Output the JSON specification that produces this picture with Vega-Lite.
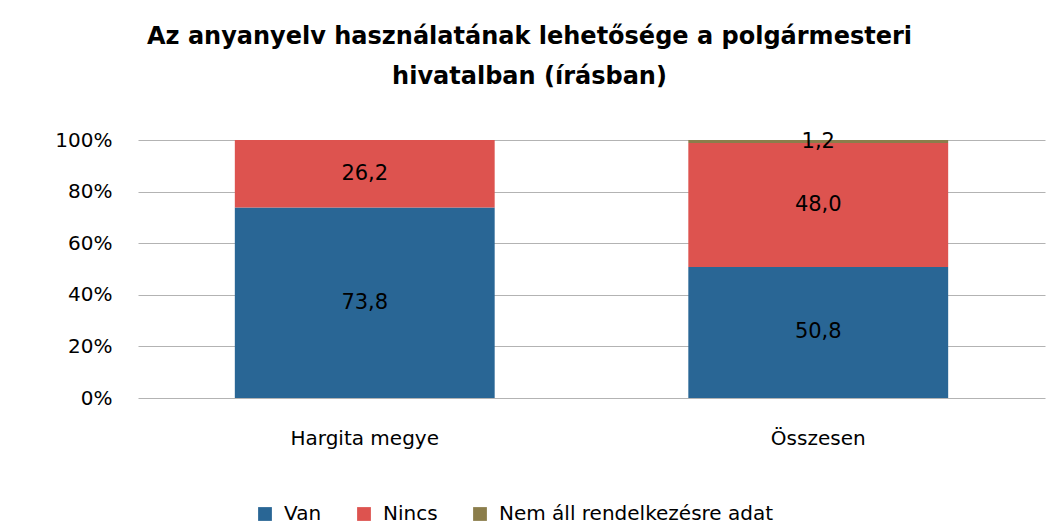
{
  "$schema": "https://vega.github.io/schema/vega-lite/v6.json",
  "width": 907,
  "height": 258,
  "autosize": {"type": "none"},
  "padding": {"left": 138, "top": 140, "right": 5, "bottom": 129},
  "background": "white",
  "config": {"view": {"stroke": null}},
  "title": {
    "text": ["Az anyanyelv használatának lehetősége a polgármesteri", "hivatalban (írásban)"],
    "anchor": "middle",
    "dx": -62,
    "offset": 40,
    "font": "DejaVu Sans",
    "fontSize": 24,
    "fontWeight": "bold",
    "lineHeight": 40,
    "color": "#000000"
  },
  "data": {
    "values": [
      {"cat": "Hargita megye", "group": "Van", "value": 73.8, "label": "73,8", "k": 1},
      {"cat": "Hargita megye", "group": "Nincs", "value": 26.2, "label": "26,2", "k": 2},
      {"cat": "Hargita megye", "group": "Nem áll rendelkezésre adat", "value": 0, "label": "", "k": 3},
      {"cat": "Összesen", "group": "Van", "value": 50.8, "label": "50,8", "k": 1},
      {"cat": "Összesen", "group": "Nincs", "value": 48.0, "label": "48,0", "k": 2},
      {"cat": "Összesen", "group": "Nem áll rendelkezésre adat", "value": 1.2, "label": "1,2", "k": 3}
    ]
  },
  "transform": [
    {"stack": "value", "groupby": ["cat"], "sort": [{"field": "k", "order": "ascending"}], "offset": "normalize", "as": ["y0", "y1"]},
    {"calculate": "(datum.y0 + datum.y1) / 2", "as": "ymid"}
  ],
  "encoding": {
    "x": {
      "field": "cat",
      "type": "nominal",
      "sort": null,
      "scale": {"paddingInner": 0, "paddingOuter": 0},
      "axis": {
        "title": null,
        "labelAngle": 0,
        "labelFont": "DejaVu Sans",
        "labelFontSize": 20,
        "labelColor": "#000000",
        "labelPadding": 30,
        "ticks": false,
        "domain": false
      }
    }
  },
  "layer": [
    {
      "mark": {"type": "bar", "width": {"band": 0.573}},
      "encoding": {
        "y": {
          "field": "y0",
          "type": "quantitative",
          "scale": {"domain": [0, 1], "nice": false},
          "axis": {
            "title": null,
            "format": ".0%",
            "values": [0, 0.2, 0.4, 0.6, 0.8, 1],
            "labelOverlap": false,
            "labelFont": "DejaVu Sans",
            "labelFontSize": 20,
            "labelColor": "#000000",
            "labelPadding": 26,
            "ticks": false,
            "domain": false,
            "grid": true,
            "gridColor": "#B3B3B3",
            "gridWidth": 1
          }
        },
        "y2": {"field": "y1"},
        "color": {
          "field": "group",
          "type": "nominal",
          "scale": {
            "domain": ["Van", "Nincs", "Nem áll rendelkezésre adat"],
            "range": ["#296695", "#DD534F", "#8B7D4B"]
          },
          "legend": {
            "title": null,
            "orient": "none",
            "direction": "horizontal",
            "legendX": 117,
            "legendY": 364,
            "symbolType": "square",
            "symbolSize": 190,
            "symbolStrokeWidth": 0,
            "labelFont": "DejaVu Sans",
            "labelFontSize": 20,
            "labelLimit": 500,
            "labelColor": "#000000",
            "columnPadding": 32,
            "labelOffset": 9
          }
        }
      }
    },
    {
      "mark": {"type": "text", "font": "DejaVu Sans", "fontSize": 21, "color": "#000000", "baseline": "middle"},
      "encoding": {
        "y": {"field": "ymid", "type": "quantitative"},
        "text": {"field": "label"}
      }
    }
  ]
}
